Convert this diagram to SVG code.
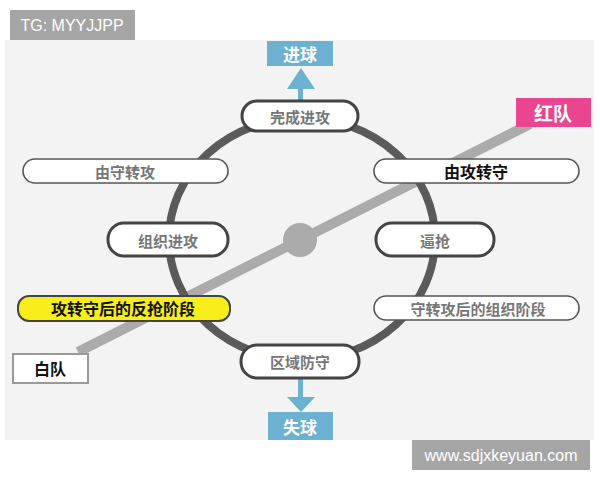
<svg xmlns="http://www.w3.org/2000/svg" width="600" height="480" viewBox="0 0 600 480">
<style>
text{font-family:"Noto Sans CJK SC","Liberation Sans",sans-serif;text-anchor:middle;dominant-baseline:central}
.pill{fill:#fff;stroke:#444;stroke-width:3}
.thin{fill:#fff;stroke:#555;stroke-width:1.6}
.g{fill:#777;font-size:15px;font-weight:bold}
.k{fill:#111;font-size:16px;font-weight:bold}
.blue{fill:#6cb1d0}
.w{fill:#fff;font-weight:bold}
.tag{fill:#a5a5a5}
.tagt{fill:#fff;font-family:"Liberation Sans",sans-serif;font-size:16px}
</style>
<rect x="0" y="0" width="600" height="480" fill="#fff"/>
<rect x="5" y="40" width="589" height="400" fill="#f3f3f3"/>
<g id="connectors">
<line x1="78" y1="352" x2="530" y2="124" stroke="#ababab" stroke-width="10"/>
<ellipse cx="302" cy="239" rx="133" ry="121" fill="none" stroke="#5a5a5a" stroke-width="8"/>
<circle cx="300" cy="240" r="17" fill="#ababab"/>
<rect x="298" y="86" width="5" height="16" class="blue"/>
<polygon points="287,89 315,89 301,68" class="blue"/>
<rect x="298" y="378" width="5" height="20" class="blue"/>
<polygon points="287,397 315,397 301,412" class="blue"/>
</g>
<g id="tg"><rect x="10" y="10" width="125" height="30" class="tag"/><text x="72" y="25" class="tagt">TG: MYYJJPP</text></g>
<g id="n-jinqiu"><rect x="267" y="41" width="66" height="25" class="blue"/><text x="300" y="53" class="w" font-size="17">进球</text></g>
<g id="n-shiqiu"><rect x="268" y="412" width="65" height="28" class="blue"/><text x="300" y="426" class="w" font-size="17">失球</text></g>
<g id="n-wancheng"><rect x="242" y="101" width="116" height="30" rx="15" class="pill"/><text x="300" y="116" class="g">完成进攻</text></g>
<g id="n-yousou"><rect x="23" y="159" width="205" height="24" rx="12" class="thin"/><text x="125" y="171" class="g">由守转攻</text></g>
<g id="n-yougong"><rect x="374" y="159" width="205" height="24" rx="12" class="thin"/><text x="476" y="171" class="k">由攻转守</text></g>
<g id="n-zuzhi"><rect x="108" y="223" width="120" height="33" rx="16" class="pill"/><text x="168" y="240" class="g" font-size="16">组织进攻</text></g>
<g id="n-biqiang"><rect x="376" y="223" width="118" height="33" rx="16" class="pill"/><text x="435" y="240" class="g">逼抢</text></g>
<g id="n-fanqiang"><rect x="18" y="296" width="212" height="25" rx="11" fill="#f7ee1c" stroke="#444" stroke-width="2"/><text x="123" y="308" class="k" font-size="17.5">攻转守后的反抢阶段</text></g>
<g id="n-zuzhijieduan"><rect x="374" y="296" width="205" height="24" rx="12" class="thin"/><text x="478" y="308" class="g" font-size="16">守转攻后的组织阶段</text></g>
<g id="n-quyu"><rect x="241" y="345" width="118" height="33" rx="16" class="pill"/><text x="300" y="361" class="g">区域防守</text></g>
<g id="n-baidui"><rect x="13" y="354" width="75" height="29" fill="#fff" stroke="#999" stroke-width="2"/><text x="50" y="368" class="k" font-size="20">白队</text></g>
<g id="n-hongdui"><rect x="516" y="98" width="75" height="29" fill="#e9468f"/><text x="553" y="112" class="w" font-size="19">红队</text></g>
<g id="wm"><rect x="412" y="440" width="178" height="30" class="tag"/><text x="501" y="455" class="tagt">www.sdjxkeyuan.com</text></g>
</svg>
